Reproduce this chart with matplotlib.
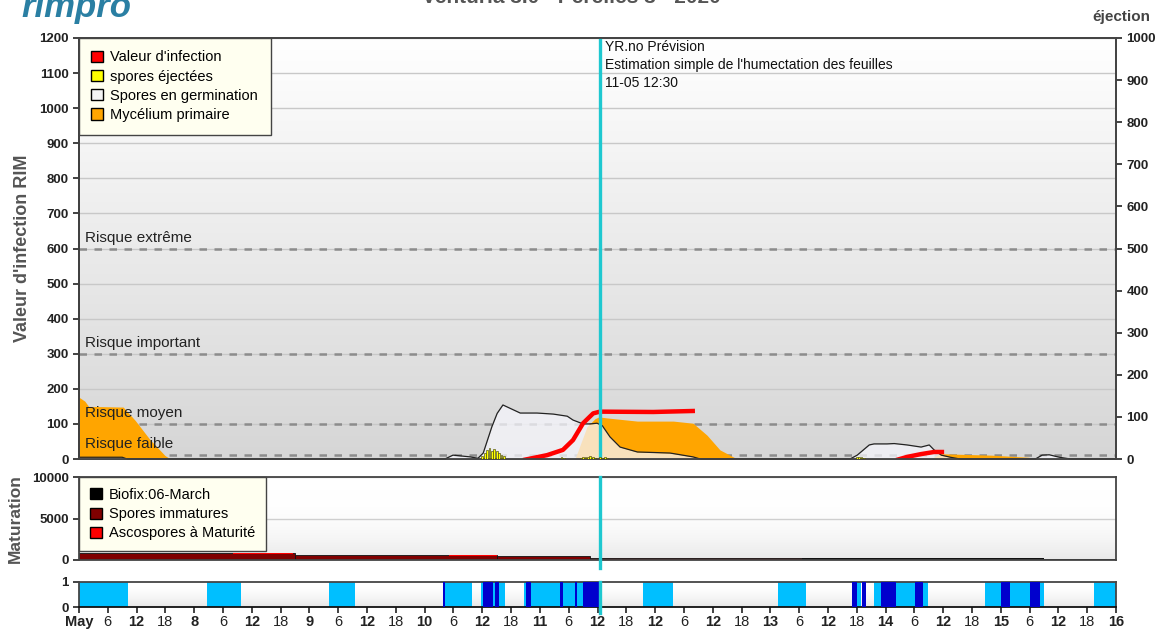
import numpy as np
import matplotlib
matplotlib.use("Agg")
import matplotlib.pyplot as plt
import matplotlib.patches as mpatches
from matplotlib.colors import LinearSegmentedColormap

plt.rcParams['font.family'] = ['Liberation Sans', 'DejaVu Sans']

# time axis: hours from 7 May 00:00 to 16 May 00:00
day_labels = ['May', '8', '9', '10', '11', '12', '13', '14', '15', '16']
hour_labels = ['6', '12', '18']
now_h = 108.5  # 11-05 12:30

# Mycelium primaire (orange)
myc_t = [0, 1.2, 2, 9.2, 11.7, 14.8, 17.9, 19,
         103.3, 105.8, 107.5, 108.3, 110, 116.3, 123.8, 127.9, 130.8, 133.5, 137.1,
         177.3, 179.4, 190, 197.7, 200.2]
myc_v = [176, 165, 150, 148, 110, 55, 10, 0,
         0, 92, 115, 120, 117, 108, 108, 102, 68, 26, 0,
         0, 15, 11, 5, 0]

# Spores en germination
germ_t = [0, 9, 10,
          76.2, 77.9, 81.5, 83.1, 84.2, 86.0, 87.1, 88.3, 91.9, 95.4, 98.8, 101.7,
          102.9, 105, 106.5, 107.9, 109, 110.6, 112.7, 116.3, 123.1, 127.9, 129.4,
          160.6, 162.1, 164.6, 165.6, 168.3, 169.8, 172.5, 175.4, 177.1, 178.1, 179.6,
          181.5, 183.5,
          199.2, 200.6, 202.1, 204.2, 206.5]
germ_v = [5, 5, 0,
          0, 11, 6, 2, 17, 92, 130, 154, 131, 131, 128, 122,
          111, 100, 100, 102, 95, 63, 34, 20, 17, 6, 0,
          0, 11, 40, 43, 43, 44, 40, 34, 40, 26, 11,
          5, 0,
          0, 11, 12, 5, 0]

# Valeur d'infection (red), two events
inf1_t = [92.5, 97.5, 100.8, 102.9, 105, 107.1, 108.5, 119.6, 128.3]
inf1_v = [-3, 11, 26, 54, 102, 130, 135, 134, 137]
inf2_t = [170.2, 172.5, 175.4, 178.1, 180.2]
inf2_v = [-3, 6, 14, 20, 20]

# spores ejectees (right axis)
spore_t = [84.0, 84.5, 85.0, 85.5, 86.0, 86.5, 87.0, 87.5, 88.0, 88.5,
           100.5, 101.0, 104.5, 105.0, 105.5, 106.0, 106.5, 107.0, 107.5,
           108.5, 109.0, 109.5, 110.0, 162.0, 162.5, 163.0, 163.5]
spore_v = [8, 14, 22, 26, 20, 24, 18, 14, 10, 6,
           4, 3, 3, 5, 5, 4, 6, 4, 3,
           4, 3, 4, 3, 4, 5, 4, 3]

# risk levels
risk_names = ['Risque extrême', 'Risque important', 'Risque moyen', 'Risque faible']
risk_vals = [600, 300, 100, 12]

# maturation
imm_t0 = [0, 45, 87, 106.5]
imm_t1 = [45, 87, 106.5, 150.5]
imm_v = [800, 610, 460, 300]
mat_t0 = [32, 77]
mat_t1 = [44.6, 87]
mat_v = [120, 100]
bio_t0 = [150.5, 201]
bio_t1 = [201, 216]
bio_v = [300, 120]

# leaf wetness: light = estimated wet, dark = rain
light_t0 = [0, 26.7, 52.1, 76.25, 83.75, 86.25, 87.5, 92.7, 94.2, 100.8, 103.75,
            117.5, 145.6, 162.1, 165.6, 170.2, 175.8, 188.75, 194, 200.2, 211.5]
light_t1 = [10.2, 33.75, 57.5, 81.9, 84.2, 86.7, 88.75, 93.1, 100.2, 103.3, 105,
            123.75, 151.5, 162.9, 167.1, 174.2, 176.9, 192.1, 198.1, 201, 216]
dark_t0 = [75.8, 84.2, 86.7, 93.1, 100.2, 103.3, 105, 161, 163.1, 167.1, 174.2, 192.1, 198.1]
dark_t1 = [76.25, 86.25, 87.5, 94.2, 100.8, 103.75, 108.3, 162.1, 164, 170.2, 175.8, 194, 200.2]

W, H = 1166, 632
fig = plt.figure(figsize=(W / 100, H / 100), dpi=100)

def frac(x0, y0, x1, y1):
    return [x0 / W, 1 - y1 / H, (x1 - x0) / W, (y1 - y0) / H]

ax = fig.add_axes(frac(79, 38, 1116, 459))
axm = fig.add_axes(frac(79, 477, 1116, 560))
axw = fig.add_axes(frac(79, 582, 1116, 607))

grad = LinearSegmentedColormap.from_list('g', ['#ffffff', '#d6d6d6'])
edge = '#444444'
tick_col = '#222222'

# ---- main panel (white at top, grey at bottom)
ax.imshow(np.linspace(0, 1, 200).reshape(-1, 1), extent=[0, 216, 0, 1200],
          aspect='auto', cmap=grad, zorder=0)
ax.set_xlim(0, 216)
ax.set_ylim(0, 1200)
ax.set_yticks(range(0, 1201, 100))
ax.set_axisbelow(True)
ax.yaxis.grid(True, color='#c8c8c8', lw=1)
ax.set_xticks([])

ax.fill_between(myc_t, myc_v, color='#ffa500', lw=0, zorder=2)
ax.fill_between(germ_t, germ_v, color='#f6f6fc', alpha=0.75, lw=0, zorder=3)
ax.plot(germ_t, germ_v, color='#222222', lw=0.9, zorder=4)
ax.plot(inf1_t, inf1_v, color='#ff0000', lw=3.2, solid_capstyle='butt', zorder=5)
ax.plot(inf2_t, inf2_v, color='#ff0000', lw=3.2, solid_capstyle='butt', zorder=5)

for name, v in zip(risk_names, risk_vals):
    ax.axhline(v, color='#8c8c8c', lw=1.8, ls=(0, (3, 3)), zorder=1.5)
    ax.text(1.2, v + 10, name, fontsize=11, color='#222222', va='bottom', zorder=6)

ax.axvline(now_h, color='#1ec8d0', lw=2.4, zorder=7)
ax.text(now_h + 1, 1193, "YR.no Prévision\nEstimation simple de l'humectation des feuilles\n11-05 12:30",
        fontsize=10, va='top', linespacing=1.35, color='#111111', zorder=8)

ax.set_ylabel("Valeur d'infection RIM", fontsize=13, fontweight='bold', color='#555555', labelpad=6)
ax.tick_params(axis='y', labelsize=9.5, colors=tick_col, length=4, width=1.2)
for t in ax.get_yticklabels():
    t.set_fontweight('bold')

handles = [mpatches.Patch(facecolor='#ff0000', edgecolor='black', label="Valeur d'infection"),
           mpatches.Patch(facecolor='#ffff00', edgecolor='black', label='spores éjectées'),
           mpatches.Patch(facecolor='#f4f4f4', edgecolor='black', label='Spores en germination'),
           mpatches.Patch(facecolor='#ffa500', edgecolor='black', label='Mycélium primaire')]
leg = ax.legend(handles=handles, loc='upper left', borderaxespad=0, fontsize=10.5,
                handlelength=0.8, handleheight=0.8, handletextpad=0.5, labelspacing=0.36,
                fancybox=False, framealpha=1, facecolor='#fffff0', edgecolor=edge,
                borderpad=0.85)
leg.set_zorder(10)

ax2 = ax.twinx()
ax2.set_ylim(0, 1000)
ax2.set_yticks(range(0, 1001, 100))
ax2.bar(spore_t, spore_v, width=0.35, color='#ffff00', edgecolor='#333300', lw=0.4, zorder=3)
ax2.tick_params(axis='y', labelsize=9.5, colors=tick_col, length=4, width=1.2)
for t in ax2.get_yticklabels():
    t.set_fontweight('bold')

for a in (ax, ax2):
    for s in a.spines.values():
        s.set_color(edge)
        s.set_linewidth(1.3)
ax.spines['left'].set_color('#111111')
ax.spines['bottom'].set_color('#111111')

# ---- maturation panel
axm.imshow(np.linspace(0, 1, 100).reshape(-1, 1) ** 3, extent=[0, 216, 0, 10000],
           aspect='auto', cmap=LinearSegmentedColormap.from_list('g2', ['#ffffff', '#e8e8e8']), zorder=0)
axm.set_xlim(0, 216)
axm.set_ylim(0, 10000)
axm.set_yticks([0, 5000, 10000])
axm.set_axisbelow(True)
axm.yaxis.grid(True, color='#cfcfcf', lw=1)
axm.set_xticks([])
imm_w = [b - a for a, b in zip(imm_t0, imm_t1)]
axm.bar(imm_t0, imm_v, width=imm_w, align='edge', color='#800000', edgecolor='#111111', lw=0.6, zorder=2)
mat_w = [b - a for a, b in zip(mat_t0, mat_t1)]
mat_bottom = [imm_v[0] - mat_v[0], imm_v[1] - mat_v[1]]
axm.bar(mat_t0, mat_v, width=mat_w, bottom=mat_bottom, align='edge', color='#ff0000', lw=0, zorder=3)
bio_w = [b - a for a, b in zip(bio_t0, bio_t1)]
axm.bar(bio_t0, bio_v, width=bio_w, align='edge', color='#111111', lw=0, zorder=2)
axm.axvline(now_h, ymin=-0.1, color='#1ec8d0', lw=2.4, zorder=7, clip_on=False)
axm.set_ylabel('Maturation', fontsize=12.5, fontweight='bold', color='#555555', labelpad=6)
axm.tick_params(axis='y', labelsize=9.5, colors=tick_col, length=4, width=1.2)
for t in axm.get_yticklabels():
    t.set_fontweight('bold')
for s in axm.spines.values():
    s.set_color(edge)
    s.set_linewidth(1.3)
handles2 = [mpatches.Patch(facecolor='#000000', edgecolor='black', label='Biofix:06-March'),
            mpatches.Patch(facecolor='#800000', edgecolor='black', label='Spores immatures'),
            mpatches.Patch(facecolor='#ff0000', edgecolor='black', label='Ascospores à Maturité')]
leg2 = axm.legend(handles=handles2, loc='upper left', borderaxespad=0, fontsize=10.5,
                  handlelength=0.8, handleheight=0.8, handletextpad=0.5, labelspacing=0.36,
                  fancybox=False, framealpha=1, facecolor='#fffff0', edgecolor=edge,
                  borderpad=0.75)
leg2.set_zorder(10)

# ---- wetness panel
axw.imshow(np.linspace(0, 1, 100).reshape(-1, 1) ** 2, extent=[0, 216, 0, 1],
           aspect='auto', cmap=LinearSegmentedColormap.from_list('g3', ['#ffffff', '#e6e6e6']), zorder=0)
axw.set_xlim(0, 216)
axw.set_ylim(0, 1)
axw.set_yticks([0, 1])
axw.bar(light_t0, 1, width=[b - a for a, b in zip(light_t0, light_t1)], align='edge',
        color='#00bfff', lw=0, zorder=2)
axw.bar(dark_t0, 1, width=[b - a for a, b in zip(dark_t0, dark_t1)], align='edge',
        color='#0000cd', lw=0, zorder=3)
axw.axvline(now_h, ymin=-0.25, color='#1ec8d0', lw=2.4, zorder=7, clip_on=False)

ticks = []
labels = []
for d, dl in enumerate(day_labels):
    ticks.append(d * 24)
    labels.append(dl)
    if d < len(day_labels) - 1:
        for k, hl in enumerate(hour_labels):
            ticks.append(d * 24 + (k + 1) * 6)
            labels.append(hl)
axw.set_xticks(ticks)
axw.set_xticklabels(labels)
axw.tick_params(axis='x', labelsize=10.5, colors=tick_col, length=4, width=1.2, pad=2)
axw.tick_params(axis='y', labelsize=9.5, colors=tick_col, length=4, width=1.2)
for t in axw.get_xticklabels():
    if t.get_text() in day_labels:
        t.set_fontweight('bold')
for t in axw.get_yticklabels():
    t.set_fontweight('bold')
for s in axw.spines.values():
    s.set_color(edge)
    s.set_linewidth(1.3)
axw.spines['bottom'].set_color('#111111')

# ---- header (cut off at top, as in the source image)
fig.text(0.018, 1 - 17 / H, 'rimpro', fontsize=25, fontweight='bold', fontstyle='italic',
         color='#2a7fa3', va='baseline')
fig.text(0.49, 1 - 3 / H, 'Venturia 3.0 - Perelles 3 - 2020', fontsize=15, fontweight='bold',
         color='#555555', ha='center', va='baseline')
fig.text(1150 / W, 1 - 17 / H, 'éjection', fontsize=11, fontweight='bold', color='#444444',
         ha='right', va='center')

fig.savefig('out.png', dpi=100)
